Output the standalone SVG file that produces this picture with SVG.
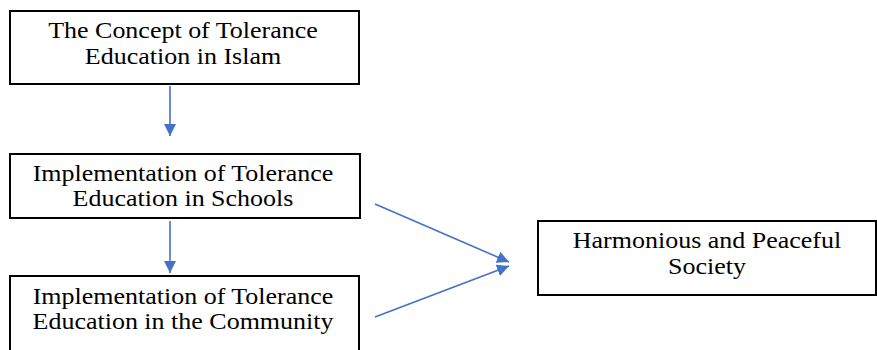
<svg xmlns="http://www.w3.org/2000/svg" width="877" height="350" viewBox="0 0 877 350">
<style>
.box{fill:#fff;stroke:#000;stroke-width:2}
.t{font-family:"Liberation Serif","Times New Roman",serif;font-size:23px;fill:#000;text-anchor:middle}
.c{stroke:#4472C4;stroke-width:1.6;fill:none;marker-end:url(#ah)}
</style>
<defs>
<marker id="ah" viewBox="0 0 10 10" refX="10" refY="5" markerWidth="7.5" markerHeight="7.5" markerUnits="strokeWidth" orient="auto">
<path d="M0,0 L10,5 L0,10 Z" fill="#4472C4"/>
</marker>
</defs>
<rect width="877" height="350" fill="#fff"/>
<g id="n1">
<rect class="box" x="10" y="11" width="349" height="73"/>
<text class="t" transform="translate(183,38) scale(1.13,1)">The Concept of Tolerance</text>
<text class="t" transform="translate(183,64) scale(1.13,1)">Education in Islam</text>
</g>
<g id="n2">
<rect class="box" x="10" y="154" width="350" height="64"/>
<text class="t" transform="translate(183,181) scale(1.13,1)">Implementation of Tolerance</text>
<text class="t" transform="translate(183,206) scale(1.13,1)">Education in Schools</text>
</g>
<g id="n3">
<rect class="box" x="10" y="276" width="349" height="80"/>
<text class="t" transform="translate(183,304) scale(1.13,1)">Implementation of Tolerance</text>
<text class="t" transform="translate(183,329) scale(1.13,1)">Education in the Community</text>
</g>
<g id="n4">
<rect class="box" x="538" y="221" width="338" height="74"/>
<text class="t" transform="translate(707,248) scale(1.13,1)">Harmonious and Peaceful</text>
<text class="t" transform="translate(707,274) scale(1.13,1)">Society</text>
</g>
<g id="connectors">
<line class="c" x1="170" y1="86" x2="170" y2="136"/>
<line class="c" x1="170" y1="221" x2="170" y2="273"/>
<line class="c" x1="375" y1="204" x2="509" y2="262"/>
<line class="c" x1="375" y1="317" x2="509" y2="266"/>
</g>
</svg>
